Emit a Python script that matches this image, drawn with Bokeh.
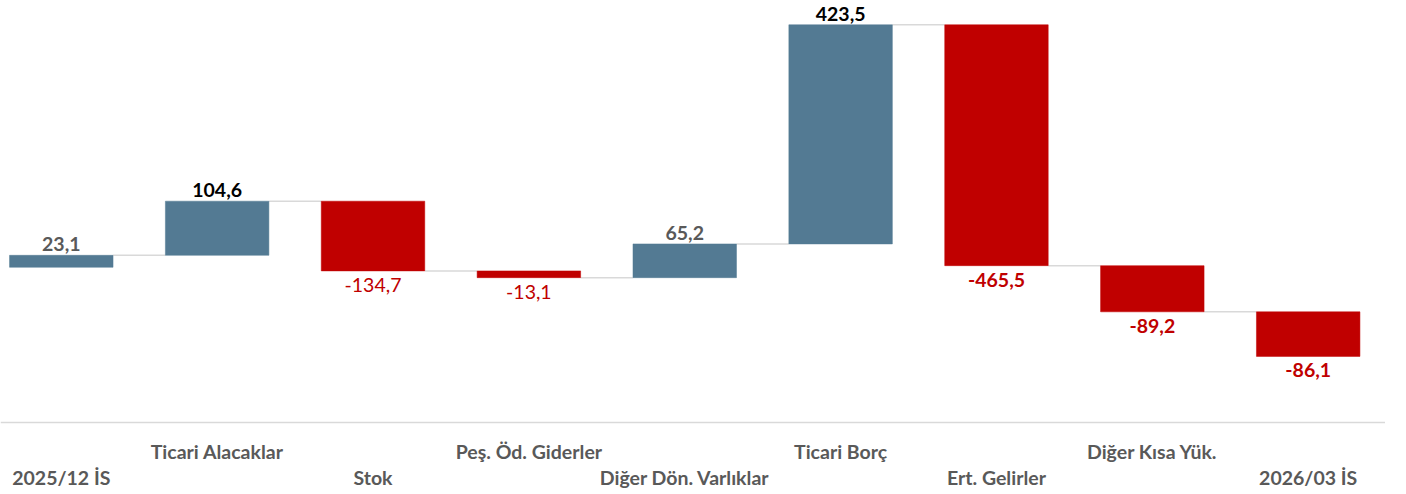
from bokeh.plotting import figure
from bokeh.models import ColumnDataSource, Range1d, Span
from bokeh.core.properties import value
from bokeh.embed import file_html
from bokeh.resources import INLINE

categories = ["2025/12 İS", "Ticari Alacaklar", "Stok", "Peş. Öd. Giderler",
              "Diğer Dön. Varlıklar", "Ticari Borç", "Ert. Gelirler",
              "Diğer Kısa Yük.", "2026/03 İS"]
changes = [23.1, 104.6, -134.7, -13.1, 65.2, 423.5, -465.5, -89.2, -86.1]
label_colors = ["#595959", "#000000", "#C00000", "#C00000", "#595959",
                "#000000", "#C00000", "#C00000", "#C00000"]
label_styles = ["bold", "bold", "normal", "normal", "bold", "bold", "bold", "bold", "bold"]

BLUE = "#537A93"
RED = "#C00000"
W = 0.664
FONT = "Lato"

xs = list(range(len(categories)))
starts, ends = [], []
level = 0.0
for v in changes:
    starts.append(level)
    level = round(level + v, 1)
    ends.append(level)

bottoms = [min(s, e) for s, e in zip(starts, ends)]
tops = [max(s, e) for s, e in zip(starts, ends)]
colors = [BLUE if v >= 0 else RED for v in changes]
labels = [f"{v:.1f}".replace(".", ",") for v in changes]

p = figure(width=1385, height=494, output_backend="svg", toolbar_location=None,
           x_range=Range1d(-0.390, 8.496), y_range=Range1d(-439.1, 515.5),
           min_border=0, min_border_left=0, min_border_right=0,
           min_border_top=0, min_border_bottom=0)
p.axis.visible = False
p.grid.visible = False
p.outline_line_color = None
p.background_fill_color = "white"
p.border_fill_color = "white"

# axis line at bottom of value area
p.add_layout(Span(location=-300, dimension="width", line_color="#D9D9D9", line_width=1.5))

# connectors
cx0 = [x + W / 2 for x in xs[:-1]]
cx1 = [x + 1 - W / 2 for x in xs[:-1]]
cy = ends[:-1]
p.segment(x0=cx0, y0=cy, x1=cx1, y1=cy, line_color="#D9D9D9", line_width=1.5)

src = ColumnDataSource(dict(x=xs, bottom=bottoms, top=tops, color=colors))
p.vbar(x="x", width=W, bottom="bottom", top="top", fill_color="color",
       line_color="color", line_width=0.5, source=src)

# value labels
for i, v in enumerate(changes):
    if v >= 0:
        y, off = tops[i], -11
    else:
        y, off = bottoms[i], 14
    p.text(x=[xs[i]], y=[y], text=[labels[i]], text_align="center",
           text_baseline="middle", y_offset=off, text_color=label_colors[i],
           text_font=value(FONT), text_font_size="19.5px",
           text_font_style=label_styles[i])

# staggered category labels
for i, c in enumerate(categories):
    off = 55 if i % 2 == 0 else 29
    p.text(x=[xs[i]], y=[-300], text=[c], text_align="center",
           text_baseline="middle", y_offset=off, text_color="#595959",
           text_font=value(FONT), text_font_size="19.5px", text_font_style="bold")

open("out.html", "w").write(file_html(p, INLINE))
